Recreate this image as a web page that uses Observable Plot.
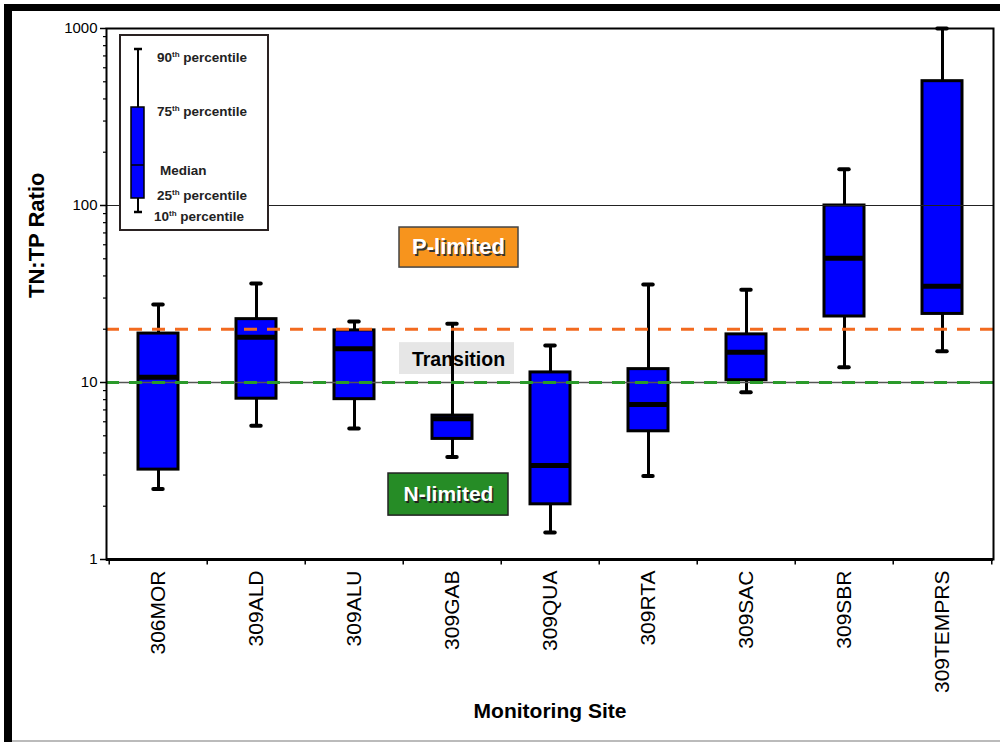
<!DOCTYPE html>
<html><head><meta charset="utf-8">
<script src="https://cdn.jsdelivr.net/npm/d3@7"></script>
<script src="https://cdn.jsdelivr.net/npm/@observablehq/plot@0.6"></script>
<style>
body{margin:0;background:#fff;font-family:"Liberation Sans",Arial,sans-serif;}
#wrap{position:relative;width:1000px;height:742px;overflow:hidden;background:#fff}
#wrap > svg.main{position:absolute;left:0;top:0}
#wrap > svg#legend{position:absolute;left:119px;top:34px}
.bar{position:absolute;background:#000}
#legend text{font-family:"Liberation Sans",Arial,sans-serif;font-weight:bold;font-size:13.5px;fill:#222}
</style></head><body><div id="wrap"></div>
<script>
// ---- data ----
const sites  = ["306MOR","309ALD","309ALU","309GAB","309QUA","309RTA","309SAC","309SBR","309TEMPRS"];
const p10    = [2.5, 5.7, 5.5, 3.8, 1.42, 2.96, 8.8, 12.2, 15.0];
const q25    = [3.22, 8.1, 8.05, 4.8, 2.05, 5.3, 10.3, 23.6, 24.4];
const median = [10.7, 18.0, 15.5, 6.25, 3.4, 7.5, 14.8, 50.4, 35.0];
const q75    = [18.9, 22.8, 19.7, 6.5, 11.4, 11.9, 18.7, 100, 504];
const p90    = [27.6, 36.3, 22.1, 21.5, 16.2, 35.8, 33.4, 160, 1000];

const yMajorTicks = [1, 10, 100, 1000];
const yMinorTicks = [2,3,4,5,6,7,8,9,20,30,40,50,60,70,80,90,200,300,400,500,600,700,800,900];
const pLimitedThreshold = 20;   // TN:TP above -> P-limited
const nLimitedThreshold = 10;   // TN:TP below -> N-limited
const gridValues = [100];

const zoneLabels = ["P-limited", "Transition", "N-limited"];
const zoneSite   = "309GAB";
const zoneTextY  = [58, 13.5, 2.33];
const zoneBoxLo  = [44.6, 11.1, 1.77];
const zoneBoxHi  = [75.1, 16.8, 3.06];

// ---- layout ----
const W = 1000, H = 742, mL = 106, mR = 7, mT = 28, mB = 183;
const bw = (W - mL - mR) / sites.length;
const boxInset = 29, capInset = (bw - 10) / 2;

const data = sites.map((s, i) => ({site: s, p10: p10[i], q25: q25[i], median: median[i], q75: q75[i], p90: p90[i]}));
const zones = zoneLabels.map((t, i) => ({site: zoneSite, text: t, y: zoneTextY[i], lo: zoneBoxLo[i], hi: zoneBoxHi[i]}));
const font = "Liberation Sans, Arial, sans-serif";

const chart = Plot.plot({
  width: W, height: H,
  marginLeft: mL, marginRight: mR, marginTop: mT, marginBottom: mB,
  className: "main",
  style: {fontFamily: font, background: "transparent", overflow: "visible", color: "#000"},
  x: {domain: sites, padding: 0, axis: null},
  y: {type: "log", domain: [1, 1000], axis: null},
  marks: [
    // zone label boxes
    Plot.barY([zones[0]], {x: "site", y1: "lo", y2: "hi", fill: "#f7941d", stroke: "#444", strokeWidth: 1.5, insetLeft: -4, insetRight: -17}),
    Plot.barY([zones[1]], {x: "site", y1: "lo", y2: "hi", fill: "#e6e6e6", insetLeft: -4, insetRight: -13}),
    Plot.barY([zones[2]], {x: "site", y1: "lo", y2: "hi", fill: "#268c26", stroke: "#222", strokeWidth: 1.5, insetLeft: -15, insetRight: -7}),
    // zone label texts
    Plot.text([zones[0]], {x: "site", y: "y", text: "text", dx: 7.5, dy: 1.5, fill: "#333", fontSize: 22, fontWeight: "bold"}),
    Plot.text([zones[0]], {x: "site", y: "y", text: "text", dx: 6, fill: "white", fontSize: 22, fontWeight: "bold"}),
    Plot.text([zones[1]], {x: "site", y: "y", text: "text", dx: 6, fill: "black", fontSize: 19.5, fontWeight: "bold"}),
    Plot.text([zones[2]], {x: "site", y: "y", text: "text", dx: -2.5, dy: 1.5, fill: "#222", fontSize: 21, fontWeight: "bold"}),
    Plot.text([zones[2]], {x: "site", y: "y", text: "text", dx: -4, fill: "white", fontSize: 21, fontWeight: "bold"}),
    // whiskers
    Plot.ruleX(data, {x: "site", y1: "p10", y2: "q25", stroke: "black", strokeWidth: 3}),
    Plot.ruleX(data, {x: "site", y1: "q75", y2: "p90", stroke: "black", strokeWidth: 3}),
    Plot.tickY(data, {x: "site", y: "p10", stroke: "black", strokeWidth: 4, strokeLinecap: "round", inset: capInset}),
    Plot.tickY(data, {x: "site", y: "p90", stroke: "black", strokeWidth: 4, strokeLinecap: "round", inset: capInset}),
    // boxes
    Plot.barY(data, {x: "site", y1: "q25", y2: "q75", fill: "#0000ff", stroke: "black", strokeWidth: 3, insetLeft: boxInset, insetRight: boxInset, insetTop: 0, insetBottom: 0}),
    Plot.tickY(data, {x: "site", y: "median", stroke: "black", strokeWidth: 5, inset: boxInset}),
    // grid + thresholds
    Plot.ruleY(gridValues, {stroke: "#222", strokeWidth: 1}),
    Plot.ruleY([nLimitedThreshold], {stroke: "#555", strokeWidth: 1.5}),
    Plot.ruleY([nLimitedThreshold], {stroke: "#2a9a2a", strokeWidth: 3, strokeDasharray: "13,10"}),
    Plot.ruleY([pLimitedThreshold], {stroke: "#f26a1f", strokeWidth: 3, strokeDasharray: "13,10"}),
    // frame & axes
    Plot.frame({stroke: "black", strokeWidth: 2}),
    Plot.ruleY([1], {stroke: "black", strokeWidth: 3}),
    Plot.axisY({ticks: yMajorTicks, tickFormat: d => String(d), tickSize: 6, tickPadding: 3, fontSize: 15, strokeWidth: 1.5, label: null}),
    Plot.axisY({ticks: yMinorTicks, tickFormat: () => "", tickSize: 3, strokeWidth: 1.2, label: null}),
    Plot.ruleX(sites, {x: d => d, dx: -bw / 2, y1: 1, y2: 0.93, stroke: "black", strokeWidth: 1.5}),
    Plot.ruleX([sites[sites.length - 1]], {x: d => d, dx: bw / 2, y1: 1, y2: 0.93, stroke: "black", strokeWidth: 1.5}),
    Plot.axisX({tickSize: 0, tickPadding: 11, tickRotate: -90, fontSize: 21, label: null}),
    Plot.text(["Monitoring Site"], {text: d => d, frameAnchor: "bottom", dy: 158, fontSize: 21, fontWeight: "bold"}),
    Plot.text(["TN:TP Ratio"], {text: d => d, frameAnchor: "left", rotate: -90, dx: -70, dy: 4, fontSize: 22, fontWeight: "bold"})
  ]
});

const wrap = document.getElementById("wrap");
wrap.appendChild(chart);

// legend (explanatory key, not data)
const legend = `
<svg id="legend" width="150" height="197">
  <rect x="1" y="1" width="148" height="195" fill="white" stroke="#2a2222" stroke-width="2"/>
  <line x1="19" x2="19" y1="15" y2="178" stroke="black" stroke-width="2"/>
  <line x1="15" x2="23" y1="15" y2="15" stroke="black" stroke-width="2.5"/>
  <line x1="15" x2="23" y1="178" y2="178" stroke="black" stroke-width="2.5"/>
  <rect x="12" y="73" width="13" height="91" fill="#0000ff" stroke="black" stroke-width="1.5"/>
  <line x1="12" x2="25" y1="131" y2="131" stroke="black" stroke-width="1.5"/>
  <text x="38" y="28">90<tspan font-size="8" dy="-5">th</tspan><tspan dy="5"> percentile</tspan></text>
  <text x="38" y="82">75<tspan font-size="8" dy="-5">th</tspan><tspan dy="5"> percentile</tspan></text>
  <text x="41" y="141">Median</text>
  <text x="38" y="166">25<tspan font-size="8" dy="-5">th</tspan><tspan dy="5"> percentile</tspan></text>
  <text x="35" y="187">10<tspan font-size="8" dy="-5">th</tspan><tspan dy="5"> percentile</tspan></text>
</svg>`;
wrap.insertAdjacentHTML("beforeend", legend);

// page border as in the reference picture
wrap.insertAdjacentHTML("beforeend",
  '<div class="bar" style="left:4px;top:4px;width:8px;height:738px"></div>' +
  '<div class="bar" style="left:4px;top:4px;width:996px;height:7px"></div>' +
  '<div class="bar" style="left:12px;top:740px;width:988px;height:2px;background:#bbb"></div>');
</script>
</body></html>
